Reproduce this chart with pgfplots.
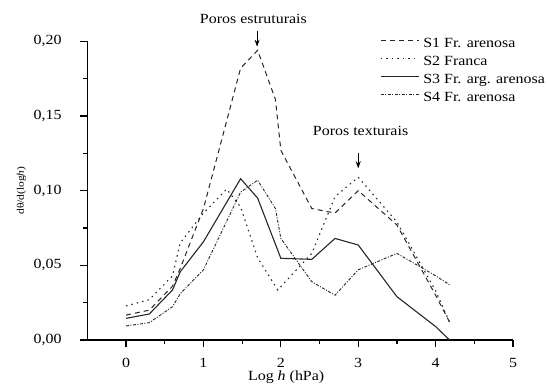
\documentclass[border=0pt]{standalone}
\usepackage{pgfplots}
\pgfplotsset{compat=1.18}
\usepackage{fontspec}
\setmainfont[FakeStretch=1.14]{Liberation Serif}
\usetikzlibrary{arrows.meta}
\begin{document}
\fontsize{14bp}{16bp}\selectfont
\begin{tikzpicture}
\path[use as bounding box] (-87.4bp,-45bp) rectangle (460.6bp,340bp);
\begin{axis}[
  at={(0,0)}, anchor=south west,
  scale only axis, width=425.6bp, height=298.7bp,
  xmin=-0.5, xmax=5, ymin=0, ymax=0.2,
  axis x line*=bottom, axis y line*=left,
  axis line style={line width=1.4bp, black},
  xtick={0,1,2,3,4,5}, minor x tick num=1,
  ytick={0,0.05,0.1,0.15,0.2}, minor y tick num=1,
  tick align=outside,
  major tick length=7bp, minor tick length=4bp,
  every tick/.style={line width=1.2bp, black},
  /pgf/number format/assume math mode=true,
  tick label style={font=\fontsize{14bp}{16bp}\selectfont},
  xticklabel style={yshift=-6bp},
  yticklabel style={xshift=-14bp, /pgf/number format/.cd, fixed, fixed zerofill, precision=2, use comma},
  xlabel={Log \textit{h} (hPa)},
  xlabel style={at={(rel axis cs:0.467,0)}, anchor=center, yshift=-37bp, font=\fontsize{14bp}{16bp}\selectfont},
  ylabel={dθ/d(log\textit{h})},
  ylabel style={at={(axis description cs:-0.155,0.5)}, anchor=center, font=\fontsize{10bp}{12bp}\selectfont},
  clip=false,
  legend style={at={(rel axis cs:0.6875,1)}, anchor=north west, yshift=4bp, draw=none, fill=none,
    inner sep=0pt, column sep=4bp, row sep=4.9bp,
    nodes={inner sep=0pt, text height=10bp, text depth=3bp, font=\fontsize{14bp}{16bp}\selectfont}},
  legend cell align=left,
  legend image code/.code={\draw[#1] (0bp,3.5bp) -- (38bp,3.5bp);},
]
\addplot[black!85, line width=1bp, dash pattern=on 5bp off 4bp] coordinates {
(0,0.0167) (0.3,0.020) (0.6,0.036) (0.7,0.048) (1.0,0.088) (1.48,0.182) (1.7,0.194) (1.93,0.161) (2.0,0.127) (2.4,0.088) (2.7,0.085) (3.0,0.100) (3.5,0.077) (4.0,0.030) (4.18,0.012)};
\addlegendentry{S1 Fr. arenosa}
\addplot[black!85, line width=1.1bp, dash pattern=on 1.5bp off 4bp] coordinates {
(0,0.0228) (0.3,0.027) (0.6,0.043) (0.7,0.065) (0.85,0.075) (1.0,0.085) (1.3,0.101) (1.48,0.089) (1.7,0.055) (1.96,0.0335) (2.4,0.058) (2.7,0.096) (3.0,0.109) (3.5,0.079) (4.0,0.033) (4.18,0.012)};
\addlegendentry{S2 Franca}
\addplot[black!85, line width=1.1bp] coordinates {
(0,0.0145) (0.3,0.0174) (0.6,0.0335) (0.7,0.0457) (1.0,0.0658) (1.48,0.108) (1.7,0.095) (2.0,0.0547) (2.4,0.054) (2.7,0.068) (3.0,0.0636) (3.5,0.029) (4.0,0.009) (4.18,0.0)};
\addlegendentry{S3 Fr. arg. arenosa}
\addplot[black!85, line width=0.9bp, dash pattern=on 3bp off 1.5bp on 1bp off 1.5bp] coordinates {
(0,0.0094) (0.3,0.0116) (0.6,0.0223) (0.7,0.031) (1.0,0.047) (1.48,0.099) (1.7,0.107) (1.93,0.088) (2.0,0.068) (2.4,0.039) (2.7,0.030) (3.0,0.047) (3.5,0.058) (4.0,0.043) (4.18,0.037)};
\addlegendentry{S4 Fr. arenosa}
\node[font=\fontsize{14bp}{16bp}\selectfont] at (axis cs:1.645,0.2152) {Poros estruturais};
\node[font=\fontsize{14bp}{16bp}\selectfont] at (axis cs:3.03,0.1399) {Poros texturais};
\draw[line width=0.8bp, -{Stealth[length=7bp,width=5bp]}] (axis cs:1.693,0.2071) -- (axis cs:1.693,0.1964);
\draw[line width=0.8bp, -{Stealth[length=7bp,width=5bp]}] (axis cs:3.0,0.1255) -- (axis cs:3.0,0.115);
\end{axis}
\end{tikzpicture}
\end{document}
